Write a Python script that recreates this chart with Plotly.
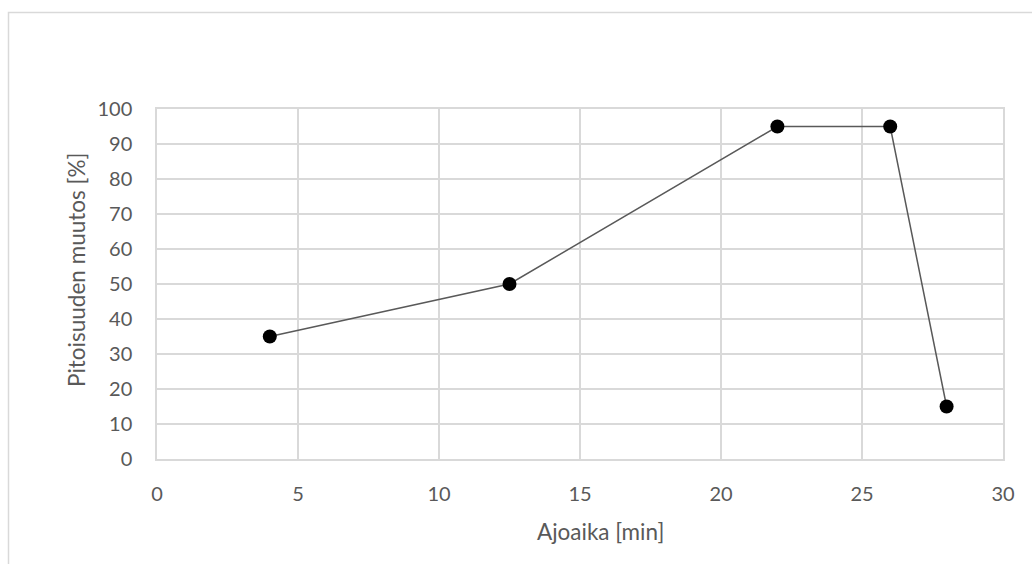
import plotly.graph_objects as go

# Run time (min) and concentration change (%)
ajoaika = [4, 12.5, 22, 26, 28]
muutos = [35, 50, 95, 95, 15]

x_ticks = [0, 5, 10, 15, 20, 25, 30]
y_ticks = [0, 10, 20, 30, 40, 50, 60, 70, 80, 90, 100]

W, H = 1032, 564
L, R, T, B = 157, 29, 109, 105
pw, ph = W - L - R, H - T - B

grid = "#d9d9d9"
txt = "#595959"
font = "Lato, 'Open Sans', sans-serif"
tick_fs = 20
title_fs = 22.5


def px_x(p):
    return (p - L) / pw


def px_y(p):
    return (H - B - p) / ph


fig = go.Figure(go.Scatter(
    x=ajoaika, y=muutos, mode="lines+markers",
    line=dict(color="#595959", width=1.5),
    marker=dict(color="black", size=14),
    showlegend=False,
))

fig.update_layout(
    width=W, height=H,
    margin=dict(l=L, r=R, t=T, b=B),
    paper_bgcolor="white", plot_bgcolor="white",
    font=dict(family=font, size=tick_fs, color=txt),
    xaxis=dict(
        range=[0, 30], tickvals=x_ticks, showgrid=True, gridcolor=grid, gridwidth=1.5,
        zeroline=False, showline=True, linecolor=grid, linewidth=1.5, mirror=True,
        ticks="", ticklabelstandoff=16,
    ),
    yaxis=dict(
        range=[0, 100], tickvals=y_ticks, showgrid=True, gridcolor=grid, gridwidth=1.5,
        zeroline=False, showline=True, linecolor=grid, linewidth=1.5, mirror=True,
        ticks="", ticklabelstandoff=19,
    ),
    annotations=[
        dict(text="Ajoaika [min]", xref="paper", yref="paper",
             x=px_x(600), y=px_y(531), xanchor="center", yanchor="middle",
             showarrow=False, font=dict(size=title_fs, color=txt)),
        dict(text="Pitoisuuden muutos [%]", xref="paper", yref="paper",
             x=px_x(76), y=px_y(270), xanchor="center", yanchor="middle",
             textangle=-90, showarrow=False, font=dict(size=title_fs, color=txt)),
    ],
    shapes=[dict(
        type="rect", xref="paper", yref="paper",
        x0=px_x(8.5), x1=px_x(1040), y0=px_y(580), y1=px_y(12.5),
        line=dict(color="#d9d9d9", width=1.5), fillcolor="rgba(0,0,0,0)", layer="below",
    )],
)

fig.write_html("out.html")
